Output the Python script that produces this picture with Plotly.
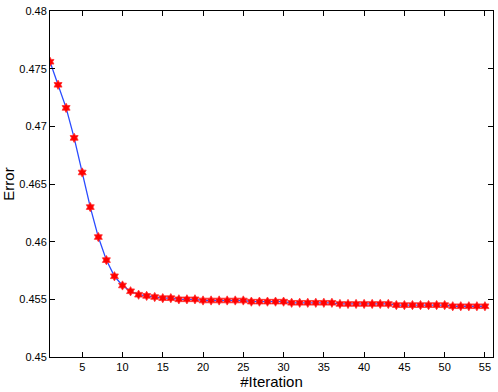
import plotly.graph_objects as go

# iteration index and error
iterations = list(range(1, 56))
error = [
    0.4756, 0.4736, 0.4716, 0.4690, 0.4660, 0.4630, 0.4604, 0.4584, 0.4570, 0.4562,
    0.4557, 0.4554, 0.4553, 0.4552, 0.4551, 0.4551, 0.4550, 0.4550, 0.4550, 0.4549,
    0.4549, 0.4549, 0.4549, 0.4549, 0.4549, 0.4548, 0.4548, 0.4548, 0.4548, 0.4548,
    0.4547, 0.4547, 0.4547, 0.4547, 0.4547, 0.4547, 0.4546, 0.4546, 0.4546, 0.4546,
    0.4546, 0.4546, 0.4546, 0.4545, 0.4545, 0.4545, 0.4545, 0.4545, 0.4545, 0.4545,
    0.4544, 0.4544, 0.4544, 0.4544, 0.4544,
]
y_ticks = [0.45, 0.455, 0.46, 0.465, 0.47, 0.475, 0.48]
y_tick_labels = ["0.45", "0.455", "0.46", "0.465", "0.47", "0.475", "0.48"]
x_ticks = [5, 10, 15, 20, 25, 30, 35, 40, 45, 50, 55]

FONT = "Liberation Sans, Arial, sans-serif"

fig = go.Figure()
fig.add_scatter(
    x=iterations, y=error, mode="lines+markers",
    line=dict(color="#2a4bff", width=1.3),
    marker=dict(symbol="hexagram", size=7, color="#ff0000", line=dict(color="#ff3030", width=0.8)),
    showlegend=False,
)

axis_common = dict(
    showline=True, linecolor="black", linewidth=1, mirror="ticks",
    ticks="inside", ticklen=5, tickcolor="black", showgrid=False, zeroline=False,
    tickfont=dict(family=FONT, size=11, color="black"),
)
fig.update_layout(
    width=498, height=392,
    margin=dict(l=50, r=4, t=11, b=33),
    paper_bgcolor="white", plot_bgcolor="white",
    font=dict(family=FONT),
    xaxis=dict(
        range=[1, 56], tickvals=x_ticks,
        title=dict(text="#Iteration", font=dict(family=FONT, size=15, color="black"), standoff=4),
        **axis_common,
    ),
    yaxis=dict(
        range=[0.45, 0.48], tickvals=y_ticks, ticktext=y_tick_labels,
        title=dict(text="Error", font=dict(family=FONT, size=15, color="black"), standoff=4),
        **axis_common,
    ),
)

# drop the browser's default body margin so the figure sits at the page corner
fig.write_html(
    "out.html",
    config={"displayModeBar": False},
    post_script="document.body.style.margin='0';",
)
